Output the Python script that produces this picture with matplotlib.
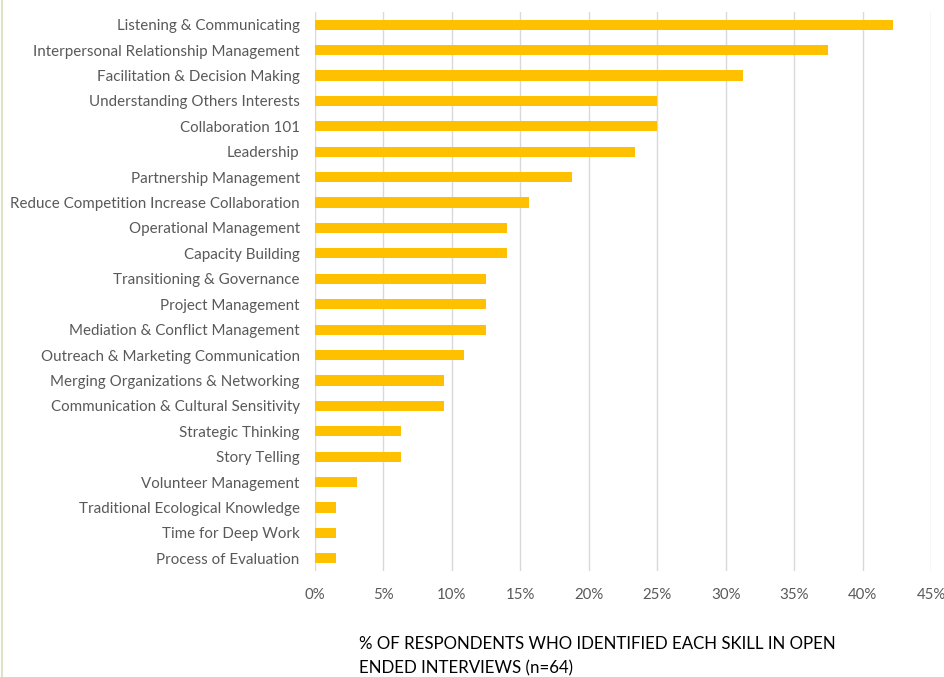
import numpy as np
import matplotlib.pyplot as plt
from matplotlib.lines import Line2D
from matplotlib.ticker import PercentFormatter

plt.rcParams["font.family"] = ["Lato", "DejaVu Sans"]

skills = [
    "Listening & Communicating",
    "Interpersonal Relationship Management",
    "Facilitation & Decision Making",
    "Understanding Others Interests",
    "Collaboration 101",
    "Leadership",
    "Partnership Management",
    "Reduce Competition Increase Collaboration",
    "Operational Management",
    "Capacity Building",
    "Transitioning & Governance",
    "Project Management",
    "Mediation & Conflict Management",
    "Outreach & Marketing Communication",
    "Merging Organizations & Networking",
    "Communication & Cultural Sensitivity",
    "Strategic Thinking",
    "Story Telling",
    "Volunteer Management",
    "Traditional Ecological Knowledge",
    "Time for Deep Work",
    "Process of Evaluation",
]
# share of respondents (n=64)
share = [0.422, 0.375, 0.3125, 0.25, 0.25, 0.234, 0.1875, 0.156, 0.1406, 0.1406,
         0.125, 0.125, 0.125, 0.109, 0.094, 0.094, 0.0625, 0.0625, 0.031,
         0.0156, 0.0156, 0.0156]
xticks = np.arange(0, 0.46, 0.05)

fig = plt.figure(figsize=(9.45, 6.77), dpi=100)
ax = fig.add_axes([315 / 945, 1 - 571 / 677, (931 - 315) / 945, (571 - 12) / 677])

y = np.arange(len(skills))
ax.barh(y, share, height=0.4, color="#FFC000", zorder=3)
ax.set_ylim(len(skills) - 0.5, -0.5)
ax.set_xlim(0, 0.45)
ax.set_yticks(y)
ax.set_yticklabels(skills, fontsize=10.9, color="#595959")
ax.set_xticks(xticks)
ax.xaxis.set_major_formatter(PercentFormatter(1.0, decimals=0))
ax.tick_params(axis="x", labelsize=10.8, labelcolor="#595959", length=0, pad=12)
ax.tick_params(axis="y", length=0, pad=11)
ax.grid(axis="x", color="#d9d9d9", linewidth=1, zorder=0)
for s in ax.spines.values():
    s.set_visible(False)

fig.text(359 / 945, 1 - 656 / 677, "% OF RESPONDENTS WHO IDENTIFIED EACH SKILL IN OPEN\nENDED INTERVIEWS (n=64)",
         fontsize=12.2, color="black", ha="left", va="center", linespacing=1.6)

# faint frame edge on the left
fig.add_artist(Line2D([2.5 / 945, 2.5 / 945], [0, 1], color="#dde3c4", linewidth=1.5,
                      transform=fig.transFigure))

fig.savefig("out.png", dpi=100)
